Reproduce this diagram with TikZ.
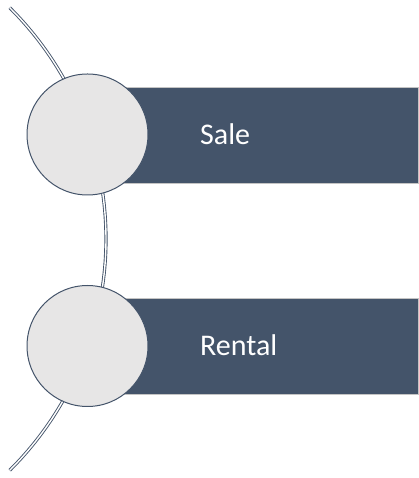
\documentclass[tikz,border=0pt]{standalone}
\usepackage{fontspec}
\setmainfont{Carlito}
\usepackage{tikz}
\definecolor{slate}{HTML}{44546A}
\definecolor{discfill}{HTML}{E7E6E6}
\definecolor{rim}{HTML}{C4C4C4}

\begin{document}
\begin{tikzpicture}[x=1pt,y=1pt,
  bar/.style={fill=slate,draw=rim,line width=0.8pt,minimum width=331pt,minimum height=96pt,anchor=west,inner sep=0pt},
  disc/.style={circle,fill=discfill,draw=slate,line width=1pt,minimum size=121pt,inner sep=0pt},
  bartext/.style={text=white,font=\fontsize{30}{36}\selectfont,anchor=base west,inner sep=0pt}]
\useasboundingbox (0,0) rectangle (419,478);
% objects at depth 100:
\draw[slate,line width=0.9pt,double=white,double distance=1.4pt] (-220,239) ++(45.2:326) arc (45.2:-45.2:326);
% objects at depth 75:
\node[bar] (salebar) at (87,343) {};
\node[bar] (rentalbar) at (87,131.5) {};
\node[bartext] (saletext) at (200,333) {Sale};
\node[bartext] (rentaltext) at (200,122) {Rental};
% objects at depth 50:
\node[disc] (saledisc) at (87.5,343.5) {};
\node[disc] (rentaldisc) at (87.5,132) {};
\end{tikzpicture}
\end{document}
